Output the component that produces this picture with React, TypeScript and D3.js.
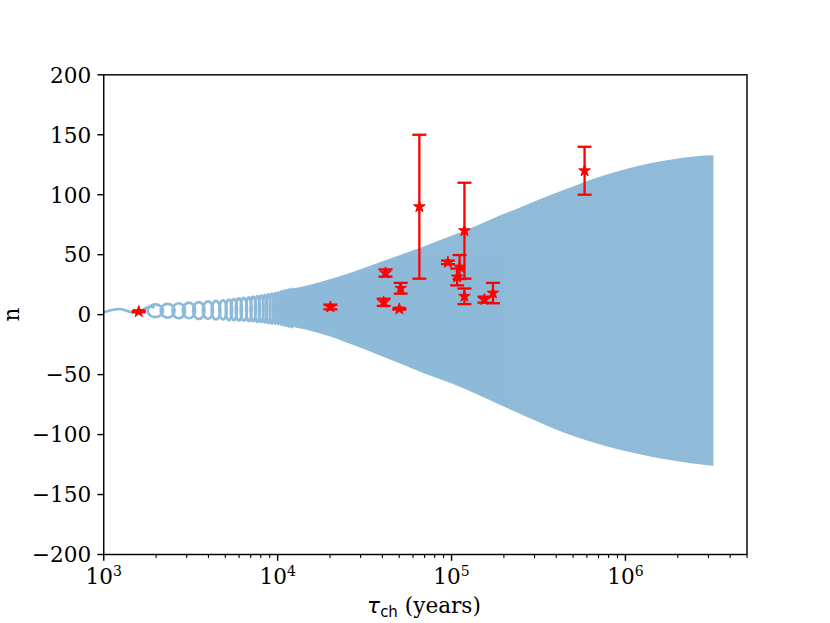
import React from 'react';
import * as d3 from 'd3';

// wave before the coil starts
const WAVE_TAU = [1000, 1240, 1450, 1620, 1820, 1960];
const WAVE_N = [2, 4.7, 2, 3, 6.5, 6];

// individual loops of the coil
const LOOP_TAU = [1980, 2330, 2700, 3090, 3520, 3970, 4420, 4850, 5240, 5600, 5980, 6390, 6830,
  7230, 7640, 8040, 8450, 8840, 9250, 9660, 10050, 10460, 10850, 11260, 11650, 12060];
const LOOP_TOP = [8.5, 9, 9.5, 10, 10.5, 11, 11.5, 12, 12.5, 13, 13.5, 14, 14.5,
  15, 15.5, 16, 16.5, 17, 17.5, 18, 18.5, 19.5, 20, 20.5, 21, 21.5];
const LOOP_BOTTOM = [-2, -2.5, -3, -3, -3.5, -3.5, -4, -4, -4.5, -4.5, -5, -5, -5.5,
  -5.5, -6, -6, -6.5, -7, -7.5, -7.5, -8, -8.5, -9, -9.5, -10, -10.5];

// envelope of the dense part
const ENV_TAU = [11000, 13525, 18850, 26270, 36600, 51010, 71080, 99010, 138000, 192300, 268000,
  373300, 520200, 724900, 1010000, 1408000, 1961000, 2733000, 3205000];
const ENV_UPPER = [20.5, 23, 28.5, 35, 42.5, 50, 57.5, 65.5, 74, 83, 91.5,
  100, 108, 115.5, 121.5, 126.5, 130, 132.5, 133];
const ENV_LOWER = [-9.5, -11.5, -17, -24.5, -32.5, -41, -49.5, -57, -66, -75.5, -85,
  -94, -102, -108.5, -114, -118.5, -122, -125, -126];

// observed pulsars
const OBS_TAU = [1590, 20100, 41700, 40700, 51000, 50100, 65300, 95300, 111200, 107700, 118600, 118600, 154600, 173000, 582000];
const OBS_N = [2.5, 6.4, 34.7, 10.3, 22, 4.7, 90, 43.6, 39.7, 31.4, 70, 15.3, 12.5, 18, 120];
const OBS_ERR = [0.5, 2, 3, 3, 4.5, 0.5, 60, 1.5, 10, 7, 40, 6.5, 2.5, 8.5, 20];

const Y_TICKS = [-200, -150, -100, -50, 0, 50, 100, 150, 200];
const X_DECADES = [3, 4, 5, 6];

const W = 830;
const H = 623;
const L = 103.75, R = 747, T = 74.8, B = 554.5;

const App: React.FC = () => {
  const x = d3.scaleLog().domain([1000, 5e6]).range([L, R]);
  const y = d3.scaleLinear().domain([-200, 200]).range([B, T]);

  const wavePath = d3.line<number>()
    .x((_, i) => x(WAVE_TAU[i]))
    .y(d => y(d))
    .curve(d3.curveCatmullRom)(WAVE_N) || '';

  const envPath = d3.area<number>()
    .x(d => x(d))
    .y0((_, i) => y(ENV_LOWER[i]))
    .y1((_, i) => y(ENV_UPPER[i]))
    .curve(d3.curveMonotoneX)(ENV_TAU) || '';

  const minorTicks: number[] = [];
  for (let e = 3; e <= 6; e++) {
    for (let m = 2; m <= 9; m++) {
      const v = m * Math.pow(10, e);
      if (v <= 5e6) minorTicks.push(v);
    }
  }

  const star = d3.symbol().type(d3.symbolStar).size(42)() || '';
  const serif = '"DejaVu Serif", serif';
  const sans = '"DejaVu Sans", sans-serif';
  const fs = 21.6;

  return (
    <svg width={W} height={H} style={{ position: 'absolute', left: 0, top: 0, background: '#fff' }}>
      {/* model curve */}
      <g opacity={0.5}>
        <path d={envPath} fill="#1f77b4" />
        <path d={wavePath} fill="none" stroke="#1f77b4" strokeWidth={2.7} />
        {LOOP_TAU.map((t, i) => {
          const next = i < LOOP_TAU.length - 1 ? LOOP_TAU[i + 1] : t;
          const prev = i > 0 ? LOOP_TAU[i - 1] : t;
          const spacing = i < LOOP_TAU.length - 1 ? x(next) - x(t) : x(t) - x(prev);
          const cy = (y(LOOP_TOP[i]) + y(LOOP_BOTTOM[i])) / 2;
          const ry = (y(LOOP_BOTTOM[i]) - y(LOOP_TOP[i])) / 2;
          return (
            <ellipse key={i} cx={x(t)} cy={cy} rx={Math.max(spacing * 0.62, 1.6)} ry={ry}
              fill="none" stroke="#1f77b4" strokeWidth={2.7} />
          );
        })}
      </g>

      {/* error bars */}
      <g stroke="#ff0000" strokeWidth={2.3}>
        {OBS_TAU.map((t, i) => {
          const cx = x(t);
          const y1 = y(OBS_N[i] + OBS_ERR[i]);
          const y2 = y(OBS_N[i] - OBS_ERR[i]);
          return (
            <g key={i}>
              <line x1={cx} x2={cx} y1={y1} y2={y2} />
              <line x1={cx - 7} x2={cx + 7} y1={y1} y2={y1} />
              <line x1={cx - 7} x2={cx + 7} y1={y2} y2={y2} />
            </g>
          );
        })}
      </g>
      <g fill="#ff0000" stroke="#ff0000" strokeWidth={1} strokeLinejoin="miter">
        {OBS_TAU.map((t, i) => (
          <path key={i} d={star} transform={`translate(${x(t)},${y(OBS_N[i])})`} />
        ))}
      </g>

      {/* frame */}
      <rect x={L} y={T} width={R - L} height={B - T} fill="none" stroke="#000" strokeWidth={1.44} />

      {/* y axis */}
      {Y_TICKS.map(v => (
        <g key={v}>
          <line x1={L - 6.3} x2={L} y1={y(v)} y2={y(v)} stroke="#000" strokeWidth={1.44} />
          <text x={L - 12.6} y={y(v)} dy="0.36em" textAnchor="end" fontFamily={serif} fontSize={fs}>
            {v < 0 ? '\u2212' + Math.abs(v) : String(v)}
          </text>
        </g>
      ))}

      {/* x axis */}
      {minorTicks.map(v => (
        <line key={v} x1={x(v)} x2={x(v)} y1={B} y2={B + 3.6} stroke="#000" strokeWidth={1.1} />
      ))}
      {X_DECADES.map(e => {
        const px = x(Math.pow(10, e));
        return (
          <g key={e}>
            <line x1={px} x2={px} y1={B} y2={B + 6.3} stroke="#000" strokeWidth={1.44} />
            <text x={px} y={583.5} textAnchor="middle" fontFamily={serif} fontSize={fs}>
              10<tspan fontSize={14} dy={-8}>{e}</tspan>
            </text>
          </g>
        );
      })}

      {/* axis labels */}
      <text x={424} y={613} textAnchor="middle" fontSize={fs}>
        <tspan fontFamily={sans} fontStyle="italic">τ</tspan>
        <tspan fontFamily={sans} fontSize={15} dy={3.5}>ch</tspan>
        <tspan fontFamily={serif} dy={-3.5}> (years)</tspan>
      </text>
      <text transform={`translate(18.5,${(T + B) / 2}) rotate(-90)`} textAnchor="middle" fontFamily={serif} fontSize={fs}>
        n
      </text>
    </svg>
  );
};

export default App;
